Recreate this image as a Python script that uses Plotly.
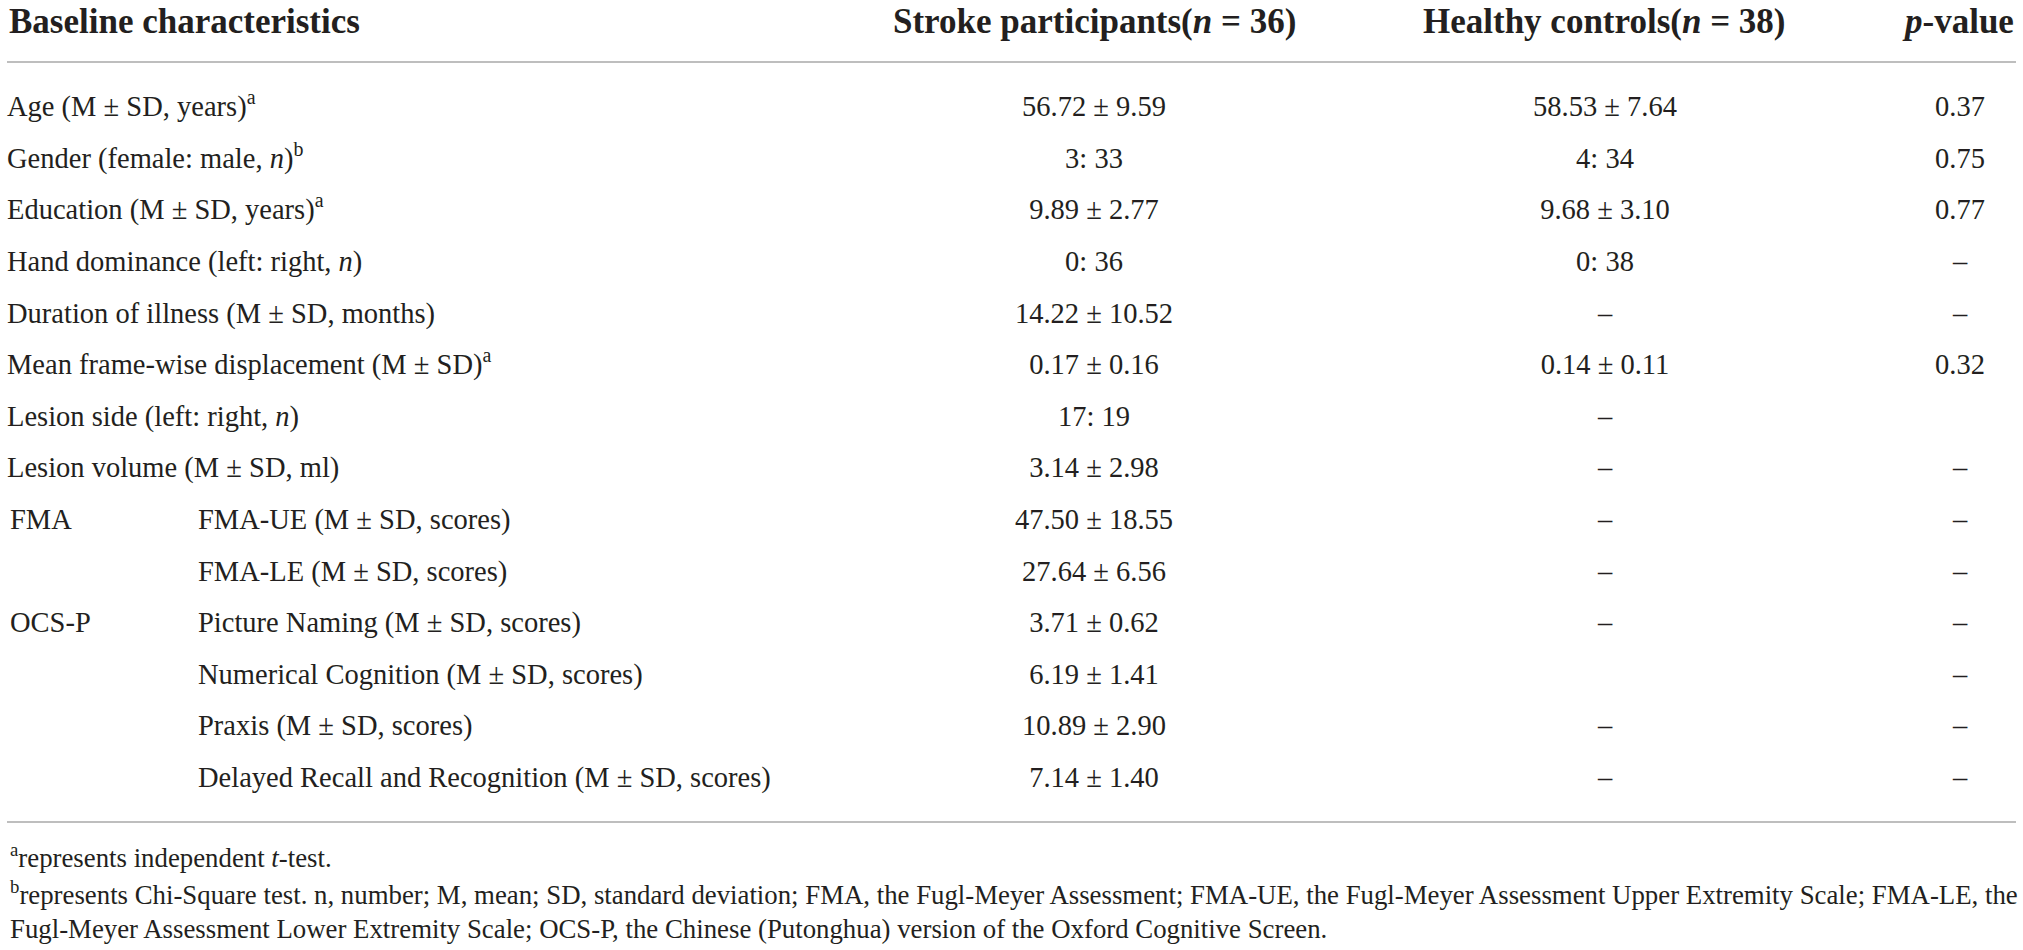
import plotly.graph_objects as go

# ---------------- data ----------------
row_labels = [
    "Age (M ± SD, years)<sup>a</sup>",
    "Gender (female: male, <i>n</i>)<sup>b</sup>",
    "Education (M ± SD, years)<sup>a</sup>",
    "Hand dominance (left: right, <i>n</i>)",
    "Duration of illness (M ± SD, months)",
    "Mean frame-wise displacement (M ± SD)<sup>a</sup>",
    "Lesion side (left: right, <i>n</i>)",
    "Lesion volume (M ± SD, ml)",
    "FMA-UE (M ± SD, scores)",
    "FMA-LE (M ± SD, scores)",
    "Picture Naming (M ± SD, scores)",
    "Numerical Cognition (M ± SD, scores)",
    "Praxis (M ± SD, scores)",
    "Delayed Recall and Recognition (M ± SD, scores)",
]
# rows that sit under a group heading (indented sub-labels)
sub_rows = [8, 9, 10, 11, 12, 13]
group_labels = ["FMA", "OCS-P"]
group_rows = [8, 10]

stroke_vals = ["56.72 ± 9.59", "3: 33", "9.89 ± 2.77", "0: 36", "14.22 ± 10.52",
               "0.17 ± 0.16", "17: 19", "3.14 ± 2.98", "47.50 ± 18.55",
               "27.64 ± 6.56", "3.71 ± 0.62", "6.19 ± 1.41", "10.89 ± 2.90",
               "7.14 ± 1.40"]
healthy_vals = ["58.53 ± 7.64", "4: 34", "9.68 ± 3.10", "0: 38", "–",
                "0.14 ± 0.11", "–", "–", "–", "–", "–", "", "–", "–"]
p_vals = ["0.37", "0.75", "0.77", "–", "–", "0.32", "", "–", "–", "–", "–",
          "–", "–", "–"]

headers = ["Baseline characteristics",
           "Stroke participants(<i>n</i> = 36)",
           "Healthy controls(<i>n</i> = 38)",
           "<i>p</i>-value"]

footnotes = [
    "<sup>a</sup>represents independent <i>t</i>-test.",
    "<sup>b</sup>represents Chi-Square test. n, number; M, mean; SD, standard deviation; "
    "FMA, the Fugl-Meyer Assessment; FMA-UE, the Fugl-Meyer Assessment Upper Extremity Scale; FMA-LE, the",
    "Fugl-Meyer Assessment Lower Extremity Scale; OCS-P, the Chinese (Putonghua) version of the Oxford Cognitive Screen.",
]

# ---------------- layout constants ----------------
W, H = 2023, 950
FONT = "Liberation Serif"
TXT = "#231f20"
RULE = "#a8a8a8"
BODY = 28.5
FOOT = 26.8
HEAD = 35

ROW0_PX = 109.0     # pixel centre of first row
PITCH = 51.6        # row pitch in pixels
def r(px):          # pixel y -> row units
    return (px - ROW0_PX) / PITCH

X_LABEL = 7
X_GROUP = 10
X_SUB = 198
X_STROKE = 1094
X_HEALTHY = 1605
X_P = 1960

n = len(row_labels)
rows = list(range(n))

fig = go.Figure()

label_x = [X_SUB if i in sub_rows else X_LABEL for i in rows]
fig.add_trace(go.Scatter(x=label_x, y=rows, text=row_labels, mode="text",
                         textposition="middle right",
                         textfont=dict(family=FONT, size=BODY, color=TXT)))
fig.add_trace(go.Scatter(x=[X_GROUP] * len(group_rows), y=group_rows, text=group_labels,
                         mode="text", textposition="middle right",
                         textfont=dict(family=FONT, size=BODY, color=TXT)))
for xc, vals in [(X_STROKE, stroke_vals), (X_HEALTHY, healthy_vals), (X_P, p_vals)]:
    keep = [i for i in rows if vals[i] != ""]
    fig.add_trace(go.Scatter(x=[xc] * len(keep), y=keep, text=[vals[i] for i in keep],
                             mode="text", textposition="middle center",
                             textfont=dict(family=FONT, size=BODY, color=TXT)))

# headers
head_y = r(21)
fig.add_annotation(x=X_LABEL, y=head_y, text="<b>" + headers[0] + "</b>", xanchor="left",
                   yanchor="middle", showarrow=False,
                   font=dict(family=FONT, size=HEAD, color=TXT))
for xc, t in zip([X_STROKE, 1604, 1958], headers[1:]):
    fig.add_annotation(x=xc, y=head_y, text="<b>" + t + "</b>", xanchor="center",
                       yanchor="middle", showarrow=False,
                       font=dict(family=FONT, size=HEAD, color=TXT))

# rules
for py in (62, 822):
    fig.add_shape(type="line", x0=7, x1=2016, y0=r(py), y1=r(py),
                  line=dict(color=RULE, width=1.6))

# footnotes
for t, py in zip(footnotes, (856, 893, 929)):
    fig.add_annotation(x=8, y=r(py), text=t, xanchor="left", yanchor="middle",
                       showarrow=False, font=dict(family=FONT, size=FOOT, color=TXT))

fig.update_layout(
    width=W, height=H,
    margin=dict(l=0, r=0, t=0, b=0),
    paper_bgcolor="white", plot_bgcolor="white",
    showlegend=False, hovermode=False,
    xaxis=dict(range=[0, W], visible=False, fixedrange=True),
    yaxis=dict(range=[r(H), r(0)], visible=False, fixedrange=True),
)

fig.write_html("out.html", config={"displayModeBar": False},
               post_script="document.body.style.margin='0';document.body.style.overflow='hidden';")
